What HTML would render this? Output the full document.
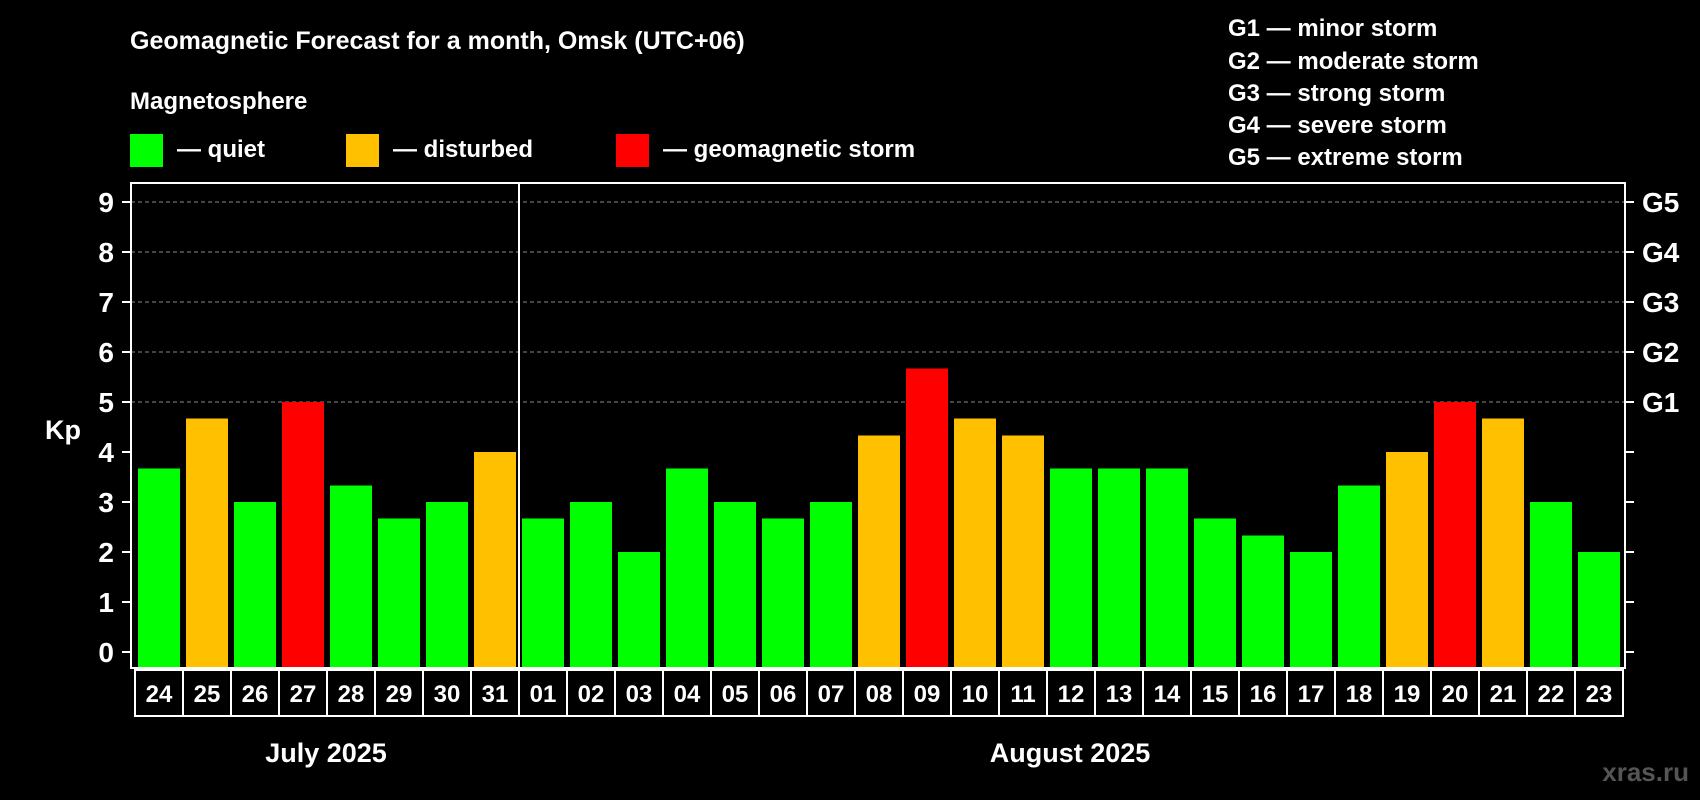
<!DOCTYPE html>
<html><head><meta charset="utf-8"><style>
html,body{margin:0;padding:0;background:#000;}
svg{display:block;font-family:"Liberation Sans",Arial,sans-serif;font-weight:bold;}
</style></head><body>
<svg id="chart" width="1700" height="800" viewBox="0 0 1700 800">
<rect width="1700" height="800" fill="#000"/>
<text x="130" y="49" fill="#fff" font-size="25">Geomagnetic Forecast for a month, Omsk (UTC+06)</text>
<text x="130" y="109" fill="#fff" font-size="24">Magnetosphere</text>
<g><rect x="130" y="134" width="33" height="33" fill="#00ff00"/><text x="177" y="157" fill="#fff" font-size="24">— quiet</text></g>
<g><rect x="346" y="134" width="33" height="33" fill="#ffc000"/><text x="393" y="157" fill="#fff" font-size="24">— disturbed</text></g>
<g><rect x="616" y="134" width="33" height="33" fill="#ff0000"/><text x="663" y="157" fill="#fff" font-size="24">— geomagnetic storm</text></g>
<g fill="#fff" font-size="24">
<text x="1228" y="36">G1 — minor storm</text>
<text x="1228" y="69">G2 — moderate storm</text>
<text x="1228" y="101">G3 — strong storm</text>
<text x="1228" y="133">G4 — severe storm</text>
<text x="1228" y="165">G5 — extreme storm</text>
</g>
<text x="63" y="439" fill="#fff" font-size="27" text-anchor="middle">Kp</text>
<g id="grid"></g><g id="bars"></g><g id="axes"></g><g id="xlabels"></g>
<text x="326" y="762" fill="#fff" font-size="27" text-anchor="middle">July 2025</text>
<text x="1070" y="762" fill="#fff" font-size="27" text-anchor="middle">August 2025</text>
<text x="1689" y="781" fill="#555" font-size="26" text-anchor="end">xras.ru</text>
</svg>
<script>
const days = ["24","25","26","27","28","29","30","31","01","02","03","04","05","06","07","08","09","10","11","12","13","14","15","16","17","18","19","20","21","22","23"];
const kp = [3.67,4.67,3,5,3.33,2.67,3,4,2.67,3,2,3.67,3,2.67,3,4.33,5.67,4.67,4.33,3.67,3.67,3.67,2.67,2.33,2,3.33,4,5,4.67,3,2];
const yTicks = [0,1,2,3,4,5,6,7,8,9];
const gLabels = ["","","","","","G1","G2","G3","G4","G5"];
const NS="http://www.w3.org/2000/svg";
const L=131,R=1625,T=183,B=668;
function y(v){return 652-50*v;}
function x(i){return 138+48*i;}
function mk(t,a,p){const e=document.createElementNS(NS,t);for(const k in a)e.setAttribute(k,a[k]);p.appendChild(e);return e;}
const grid=document.getElementById('grid'),bars=document.getElementById('bars'),axes=document.getElementById('axes'),xl=document.getElementById('xlabels');
yTicks.forEach((v,i)=>{
  if(v>=5){const g=mk('line',{x1:L,x2:R,y1:y(v),y2:y(v),stroke:'#888','stroke-width':1,'stroke-dasharray':'4,3'},grid);
  
  }
  const tl=mk('line',{x1:122,x2:L,y1:y(v),y2:y(v),stroke:'#fff','stroke-width':2},axes);
  
  
  const tr=mk('line',{x1:R,x2:1634,y1:y(v),y2:y(v),stroke:'#fff','stroke-width':2},axes);
  
  
  const t=mk('text',{x:114,y:y(v)+10,fill:'#fff','font-size':28,'text-anchor':'end'},axes);t.textContent=v;
  
  
  if(gLabels[i]){const g2=mk('text',{x:1642,y:y(v)+10,fill:'#fff','font-size':28},axes);g2.textContent=gLabels[i];
  
  }
});
kp.forEach((v,i)=>{
  const c=v>=5?'#ff0000':(v>=4?'#ffc000':'#00ff00');
  const b=mk('rect',{x:x(i),y:y(v),width:42,height:B-y(v),fill:c},bars);
  
  
  const bx=mk('rect',{x:x(i)-3,y:670,width:48,height:46,fill:'none',stroke:'#fff','stroke-width':2},xl);
  
  
  const t=mk('text',{x:x(i)+21,y:702,fill:'#fff','font-size':24,'text-anchor':'middle'},xl);t.textContent=days[i];
  
  
});
const fr=mk('rect',{x:L,y:T,width:R-L,height:B-T,fill:'none',stroke:'#fff','stroke-width':2},axes);


const dv=mk('line',{x1:519,x2:519,y1:T,y2:B,stroke:'#fff','stroke-width':2},axes);


</script>
</body></html>
